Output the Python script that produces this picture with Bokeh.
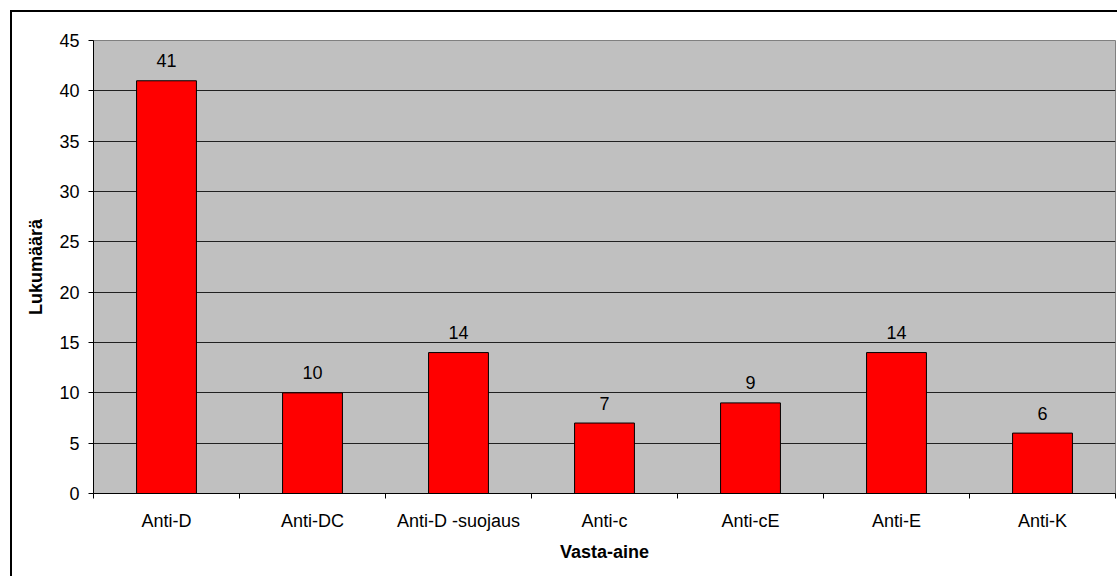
from bokeh.plotting import figure
from bokeh.layouts import column
from bokeh.models import Range1d, FixedTicker, ColumnDataSource
from bokeh.core.properties import value
from bokeh.embed import file_html
from bokeh.resources import INLINE

categories = ["Anti-D", "Anti-DC", "Anti-D -suojaus", "Anti-c", "Anti-cE", "Anti-E", "Anti-K"]
counts = [41, 10, 14, 7, 9, 14, 6]
y_ticks = [0, 5, 10, 15, 20, 25, 30, 35, 40, 45]

n = len(categories)
xs = [i + 0.5 for i in range(n)]
src = ColumnDataSource(dict(x=xs, top=counts, label=[str(c) for c in counts]))

FONT = "Liberation Sans"
FS = "18px"

p = figure(width=1105, height=564, output_backend="svg", toolbar_location=None,
           x_range=Range1d(0, n), y_range=Range1d(0, 45),
           min_border_left=81, min_border_right=2, min_border_top=28, min_border_bottom=83,
           background_fill_color="#C0C0C0", border_fill_color="white")
p.outline_line_color = "#808080"
p.outline_line_width = 1

p.vbar(x="x", top="top", width=0.41, bottom=0, source=src,
       fill_color="#FF0000", line_color="black", line_width=1)
p.text(x="x", y="top", text="label", source=src, text_align="center",
       text_baseline="alphabetic", y_offset=-20,
       text_font=value(FONT), text_font_size=FS, text_color="black")

# grid
p.xgrid.visible = False
p.ygrid.ticker = FixedTicker(ticks=y_ticks)
p.ygrid.grid_line_color = "#202020"
p.ygrid.grid_line_width = 1

# y axis
p.yaxis.ticker = FixedTicker(ticks=y_ticks)
p.yaxis.axis_label = "Lukumäärä"
p.yaxis.axis_label_text_font = FONT
p.yaxis.axis_label_text_font_style = "bold"
p.yaxis.axis_label_text_font_size = FS
p.yaxis.axis_label_text_color = "black"
p.yaxis.axis_label_standoff = 10
p.yaxis.major_label_text_font = FONT
p.yaxis.major_label_text_font_size = FS
p.yaxis.major_label_text_color = "black"
p.yaxis.major_label_standoff = 9
p.yaxis.major_tick_in = 0
p.yaxis.major_tick_out = 5
p.yaxis.minor_tick_line_color = None
p.yaxis.axis_line_color = "black"
p.yaxis.major_tick_line_color = "black"

# x axis
p.xaxis.ticker = FixedTicker(ticks=xs, minor_ticks=list(range(n + 1)))
p.xaxis.major_label_overrides = {x: c for x, c in zip(xs, categories)}
p.xaxis.axis_label = "Vasta-aine"
p.xaxis.axis_label_text_font = FONT
p.xaxis.axis_label_text_font_style = "bold"
p.xaxis.axis_label_text_font_size = FS
p.xaxis.axis_label_text_color = "black"
p.xaxis.axis_label_standoff = 8
p.xaxis.major_label_text_font = FONT
p.xaxis.major_label_text_font_size = FS
p.xaxis.major_label_text_color = "black"
p.xaxis.major_label_standoff = 12
p.xaxis.major_tick_in = 0
p.xaxis.major_tick_out = 0
p.xaxis.minor_tick_in = 0
p.xaxis.minor_tick_out = 5
p.xaxis.minor_tick_line_color = "black"
p.xaxis.axis_line_color = "black"

# chart-area border: only its left and top edges fall inside the picture
chart = column(p, styles={"margin-left": "10px", "margin-top": "10px",
                          "border-left": "2px solid black",
                          "border-top": "2px solid black"})

open("out.html", "w").write(file_html(chart, INLINE))
